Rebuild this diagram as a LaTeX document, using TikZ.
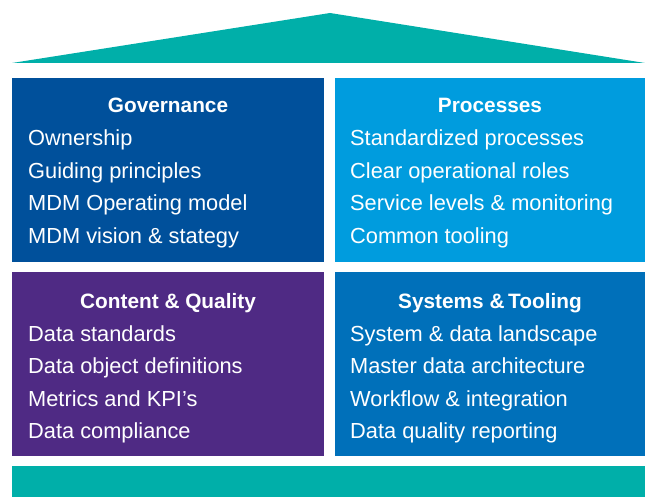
\documentclass[tikz,border=0pt]{standalone}
\usepackage{fontspec}
\setmainfont{Liberation Sans}
\definecolor{kteal}{HTML}{00AFA9}
\definecolor{kgov}{HTML}{00509B}
\definecolor{kproc}{HTML}{009CDE}
\definecolor{kcont}{HTML}{4F2A84}
\definecolor{ksys}{HTML}{0070BA}
\tikzset{
  panel/.style={fill=#1, draw=none},
  ttl/.style={text=white, anchor=base, inner sep=0pt, font=\fontsize{20.8bp}{24bp}\selectfont\bfseries},
  itm/.style={text=white, anchor=base west, inner sep=0pt, font=\fontsize{21.8bp}{25bp}\selectfont},
}
\begin{document}
\begin{tikzpicture}[x=1bp, y=-1bp]
\useasboundingbox (0,0) rectangle (645,497);
% roof
\fill[kteal] (12,63) -- (330,13) -- (645,63) -- cycle;
% panels
\fill[kgov]  (12,78) rectangle (324,262);
\fill[kproc] (335,78) rectangle (645,262);
\fill[kcont] (12,272) rectangle (324,456);
\fill[ksys]  (335,272) rectangle (645,456);
\fill[kteal] (12,466) rectangle (645,497);
% Governance
\node[ttl] (govt) at (168,113) {Governance};
\node[itm] (gov1) at (28,146) {Ownership};
\node[itm] (gov2) at (28,178.5) {Guiding principles};
\node[itm] (gov3) at (28,211) {MDM Operating model};
\node[itm] (gov4) at (28,243.5) {MDM vision \& stategy};
% Processes
\node[ttl] (proct) at (490,113) {Processes};
\node[itm] (proc1) at (350,146) {Standardized processes};
\node[itm] (proc2) at (350,178.5) {Clear operational roles};
\node[itm] (proc3) at (350,211) {Service levels \& monitoring};
\node[itm] (proc4) at (350,243.5) {Common tooling};
% Content & Quality
\node[ttl] (contt) at (168,308) {Content \& Quality};
\node[itm] (cont1) at (28,341) {Data standards};
\node[itm] (cont2) at (28,373.5) {Data object definitions};
\node[itm] (cont3) at (28,406) {Metrics and KPI’s};
\node[itm] (cont4) at (28,438.5) {Data compliance};
% Systems & Tooling
\node[ttl] (syst) at (490,308) {Systems \&\kern-0.1em\ Tooling};
\node[itm] (sys1) at (350,341) {System \& data landscape};
\node[itm] (sys2) at (350,373.5) {Master data architecture};
\node[itm] (sys3) at (350,406) {Workflow \& integration};
\node[itm] (sys4) at (350,438.5) {Data quality reporting};
\end{tikzpicture}
\end{document}
